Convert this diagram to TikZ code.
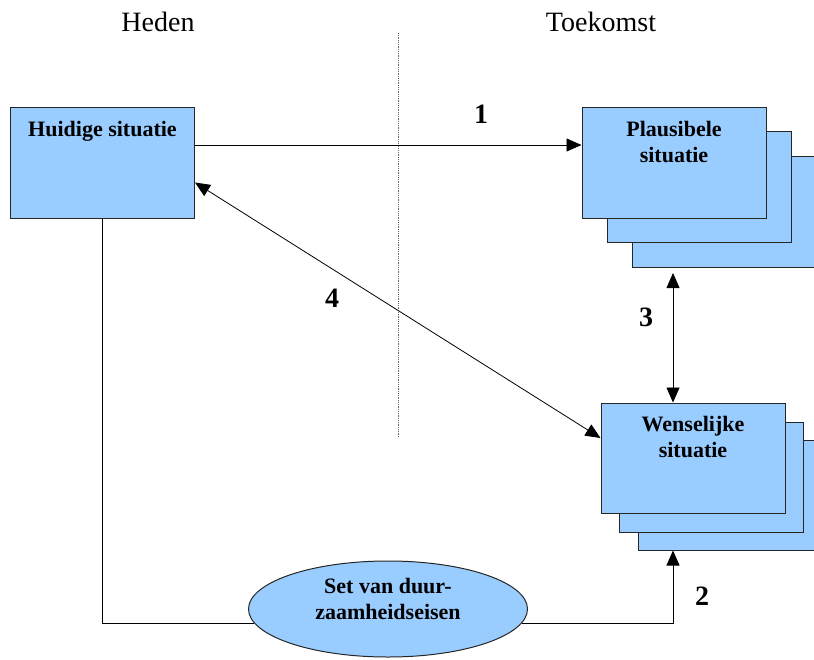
\documentclass[tikz,border=0pt]{standalone}
\usepackage{fontspec}
\setmainfont{Liberation Serif}
\usetikzlibrary{positioning,shapes.geometric,arrows.meta}

\definecolor{vakblauw}{HTML}{99CCFF}
\tikzset{
	vak/.style = {rectangle, draw = black!85, line width = 1pt, fill = vakblauw, minimum width = 184pt, minimum height = 111pt, inner sep = 0pt},
	vaktekst/.style = {inner sep = 0pt, align = center, font = \fontsize{22}{26}\selectfont\bfseries},
	kop/.style = {inner sep = 0pt, font = \fontsize{28}{32}\selectfont},
	nummer/.style = {inner sep = 0pt, font = \fontsize{28}{32}\selectfont\bfseries},
	lijn/.style = {line width = 0.8pt},
	pijl/.style = {lijn, -{Triangle[length = 15pt, width = 13pt]}},
	dubbelpijl/.style = {lijn, {Triangle[length = 15pt, width = 13pt]}-{Triangle[length = 15pt, width = 13pt]}}
}

\begin{document}
\begin{tikzpicture}[x = 1pt, y = -1pt]
	\useasboundingbox (0, 0) rectangle (814, 659);
	% Nodes
	\node[kop] (heden) at (158, 22) {Heden};
	\node[kop] (toekomst) at (601, 22) {Toekomst};
	
	\node[vak] (huidig) at (102.5, 162.5) {};
	\node[vaktekst, below = 15pt of huidig.north] (huidigtekst) {Huidige situatie};
	
	\node[vak] (plausB) at (724, 212) {};
	\node[vak] (plausA) at (699, 187) {};
	\node[vak] (plaus) at (674, 162.5) {};
	\node[vaktekst, below = 15pt of plaus.north] (plaustekst) {Plausibele\\situatie};
	
	\node[vak, minimum height = 110pt] (wensB) at (730, 495) {};
	\node[vak, minimum height = 110pt] (wensA) at (711, 477) {};
	\node[vak, minimum height = 110pt] (wens) at (693, 458) {};
	\node[vaktekst, below = 14pt of wens.north] (wenstekst) {Wenselijke\\situatie};
	
	\node[ellipse, draw = black!85, line width = 1pt, fill = vakblauw, minimum width = 279pt, minimum height = 96pt, inner sep = 0pt] (eisen) at (388, 609) {};
	\node[vaktekst] (eisentekst) at ([yshift = 10pt]eisen.center) {Set van duur-\\zaamheidseisen};
	
	\coordinate (drieboven) at (673, 273);
	\coordinate (scheidingboven) at (398, 33);
	\coordinate (scheidingonder) at (398, 438);
	
	% Edges
	\draw[lijn, densely dotted, black!60] (scheidingboven) -- (scheidingonder);
	\draw[pijl] ([yshift = 17.5pt]huidig.east) -- ([yshift = 17.5pt]plaus.west);
	\draw[dubbelpijl] ([yshift = -20pt]huidig.east) -- ([yshift = 20pt]wens.west);
	\draw[dubbelpijl] (drieboven) -- (wens.north -| drieboven);
	\draw[lijn] (huidig.south) |- (eisen.186);
	\draw[pijl] (eisen.354) -| (wensB.south -| drieboven);
	
	% Labels
	\node[nummer] (een) at (481, 114) {1};
	\node[nummer] (twee) at (702, 596) {2};
	\node[nummer] (drie) at (646, 317) {3};
	\node[nummer] (vier) at (332, 298) {4};
\end{tikzpicture}
\end{document}
